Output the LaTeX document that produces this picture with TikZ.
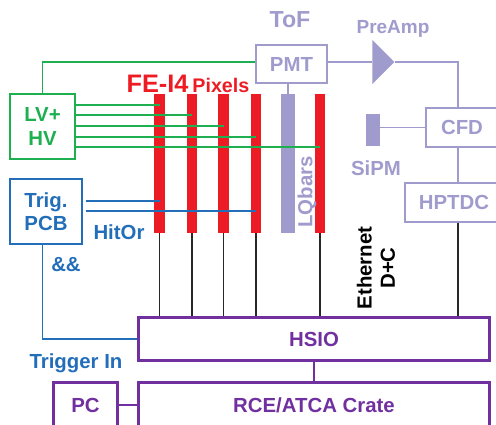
\documentclass[tikz,border=0pt]{standalone}
\usepackage{fontspec}
\setmainfont{Liberation Sans}
\usepackage{tikz}
\usetikzlibrary{shapes.geometric,positioning}
\definecolor{lvgreen}{RGB}{30,175,80}
\definecolor{trigblue}{RGB}{35,110,185}
\definecolor{toflav}{RGB}{160,155,205}
\definecolor{fered}{RGB}{237,28,36}
\definecolor{daqpurple}{RGB}{112,48,160}
\definecolor{wiregray}{RGB}{40,40,40}

\begin{document}
\begin{tikzpicture}[x=0.025cm,y=-0.025cm,
  txt/.style={font=\fontsize{14.5}{16.5}\selectfont\bfseries},
  gbox/.style={draw=lvgreen,line width=1pt,text=lvgreen,txt,align=center,inner sep=0pt},
  bbox/.style={draw=trigblue,line width=1pt,text=trigblue,txt,align=center,inner sep=0pt},
  tbox/.style={draw=toflav,line width=1pt,text=toflav,txt,inner sep=0pt},
  pbox/.style={draw=daqpurple,line width=2.2pt,text=daqpurple,txt,inner sep=0pt},
  redbar/.style={fill=fered,minimum width=0.26cm,minimum height=3.475cm,inner sep=0pt},
  lqbar/.style={fill=toflav,minimum width=0.35cm,minimum height=3.475cm,inner sep=0pt},
  gline/.style={draw=lvgreen,line width=1pt},
  bline/.style={draw=trigblue,line width=1pt},
  lline/.style={draw=toflav,line width=1pt},
  kline/.style={draw=wiregray,line width=0.9pt},
  pline/.style={draw=daqpurple,line width=1pt},
]
  \clip (0,0) rectangle (496,424);
  \node[gbox,minimum width=1.625cm,minimum height=1.625cm] (lv) at (42.5,126.5) {LV+\\HV};
  \node[bbox,minimum width=1.8cm,minimum height=1.625cm] (trig) at (46,211.5) {Trig.\\PCB};
  \node[tbox,minimum width=1.775cm,minimum height=0.95cm] (pmt) at (291.5,64) {PMT};
  \node[tbox,minimum width=1.8cm,minimum height=0.975cm] (cfd) at (462,127.5) {CFD};
  \node[tbox,minimum width=2.45cm,minimum height=0.975cm] (tdc) at (454,202.5) {HPTDC};
  \node[fill=toflav,minimum width=0.35cm,minimum height=0.8cm,inner sep=0pt] (sipm) at (373,130) {};
  \node[isosceles triangle,isosceles triangle stretches,fill=toflav,inner sep=0pt,
        minimum height=0.55cm,minimum width=1.1cm,anchor=apex] (amp) at (395,62) {};
  \coordinate (bus) at (458,0);
  \node[pbox,minimum width=8.775cm,minimum height=1.075cm] (hsio) at (314,339) {HSIO};
  \node[pbox,minimum width=8.775cm,minimum height=1.125cm] (rce) at (314,405) {RCE/ATCA Crate};
  \node[pbox,minimum width=1.6cm,minimum height=1.125cm] (pc) at (85.5,405) {PC};
  \foreach \n/\x in {b1/159.5,b2/192,b3/223.5,b4/256,b6/320} {
    \node[redbar] (\n) at (\x,163.5) {};
    \draw[kline] (\n.south) -- (\n.south |- hsio.north);
  }
  \node[lqbar] (lq) at (288,163.5) {};
  \foreach \n/\y in {b1/105,b2/115,b3/126,b4/137,b6/147}
    \draw[gline] (lv.east |- 0,\y) -- (\n |- 0,\y);
  \draw[gline] (lv.north) |- (pmt.west |- amp.west);
  \draw[bline] (trig.east |- 0,201) ++(3,0) -- (b1 |- 0,201);
  \draw[bline] (trig.east |- 0,211) ++(3,0) -- (b4 |- 0,211);
  \draw[bline] (trig.south -| lv.south) |- (hsio.west);
  \draw[lline] (lq.north) -- (lq.north |- pmt.south);
  \draw[lline] (pmt.east |- amp.west) -- (amp.west);
  \draw[lline] (amp.apex) -| (bus |- cfd.north);
  \draw[lline] (sipm.east |- cfd.west) -- (cfd.west);
  \draw[lline] (bus |- cfd.south) -- (bus |- tdc.north);
  \draw[kline] (bus |- tdc.south) -- (bus |- hsio.north);
  \draw[pline] (hsio.south) -- (rce.north);
  \draw[pline] (pc.east) -- (rce.west);
  \node[txt,text=toflav,font=\fontsize{16.5}{18}\selectfont\bfseries] (tof) at (290,20) {ToF};
  \node[txt,text=toflav,font=\fontsize{13.5}{15}\selectfont\bfseries] (preamp) at (393,29) {PreAmp};
  \node[txt,text=toflav] (sipmlbl) at (376,168) {SiPM};
  \node[txt,text=toflav,rotate=90] (lqlbl) at (307,192) {LQbars};
  \node[text=fered,font=\bfseries] (fe) at (188,84)
    {{\fontsize{18}{20}\selectfont FE-I4} {\fontsize{14}{16}\selectfont Pixels}};
  \node[txt,text=trigblue] (hitor) at (119,232) {HitOr};
  \node[txt,text=trigblue] (andand) at (66,265) {\&\&};
  \node[txt,text=trigblue] (trigin) at (76,363) {Trigger In};
  \node[txt,text=black,rotate=90,align=center] (eth) at (376,268) {Ethernet\\D+C};
\end{tikzpicture}
\end{document}
